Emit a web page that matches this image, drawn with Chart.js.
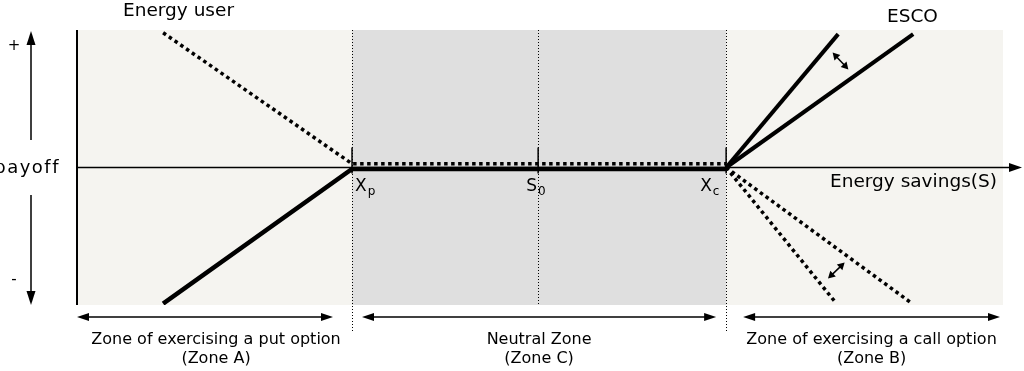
<!DOCTYPE html>
<html>
<head>
<meta charset="utf-8">
<script src="https://cdn.jsdelivr.net/npm/chart.js@4"></script>
<style>
  html, body { margin: 0; padding: 0; background: #fff; }
  #wrap { width: 1024px; height: 371px; }
</style>
</head>
<body>
<div id="wrap"><canvas id="payoff" width="1024" height="371"></canvas></div>
<script>
// Strike / reference points on the energy-savings axis
const strikePut = 29.7;  // Xp
const spotS0 = 49.8;     // S0
const strikeCall = 70.1; // Xc

// ESCO payoff (solid)
const escoX = [9.3, 29.7, 70.1];
const escoY = [-0.99, -0.01, -0.01];
const escoSteepX = [70.1, 82.2];
const escoSteepY = [0, 0.97];
const escoFlatX = [70.1, 90.3];
const escoFlatY = [0, 0.97];

// Energy user payoff (dotted)
const userX = [9.3, 29.7, 70.1];
const userY = [0.98, 0.027, 0.027];
const userSteepX = [70.1, 81.9];
const userSteepY = [0, -0.98];
const userFlatX = [70.1, 90.2];
const userFlatY = [0, -0.99];

// small double arrows between the slopes
const upperArrowX = [81.6, 83.3];
const upperArrowY = [0.836, 0.713];
const lowerArrowX = [81.1, 82.9];
const lowerArrowY = [-0.807, -0.691];

const zoneLabels = [
    ['Zone of exercising a put option', '(Zone A)'],
    ['Neutral Zone', '(Zone C)'],
    ['Zone of exercising a call option', '(Zone B)']
];

const FONT = '"DejaVu Sans", sans-serif';

function pts(xs, ys) {
    return xs.map((x, i) => ({ x: x, y: ys[i] }));
}

function solid(xs, ys, w) {
    return { data: pts(xs, ys), borderColor: '#000', borderWidth: w || 4, pointRadius: 0,
             showLine: true, fill: false, tension: 0, borderCapStyle: 'butt', borderJoinStyle: 'miter' };
}
function dotted(xs, ys) {
    return { data: pts(xs, ys), borderColor: '#000', borderWidth: 3.5, pointRadius: 0,
             showLine: true, fill: false, tension: 0, borderDash: [3.5, 3.5], borderCapStyle: 'butt' };
}

function arrowHead(ctx, x1, y1, x2, y2, len, half) {
    const a = Math.atan2(y2 - y1, x2 - x1);
    ctx.beginPath();
    ctx.moveTo(x2, y2);
    ctx.lineTo(x2 - len * Math.cos(a) + half * Math.sin(a), y2 - len * Math.sin(a) - half * Math.cos(a));
    ctx.lineTo(x2 - len * Math.cos(a) - half * Math.sin(a), y2 - len * Math.sin(a) + half * Math.cos(a));
    ctx.closePath();
    ctx.fill();
}

function doubleArrow(ctx, x1, y1, x2, y2, lw, len, half) {
    const a = Math.atan2(y2 - y1, x2 - x1);
    ctx.lineWidth = lw;
    ctx.beginPath();
    ctx.moveTo(x1 + len * 0.8 * Math.cos(a), y1 + len * 0.8 * Math.sin(a));
    ctx.lineTo(x2 - len * 0.8 * Math.cos(a), y2 - len * 0.8 * Math.sin(a));
    ctx.stroke();
    arrowHead(ctx, x1, y1, x2, y2, len, half);
    arrowHead(ctx, x2, y2, x1, y1, len, half);
}

function subLabel(ctx, main, sub, x, y) {
    ctx.textAlign = 'left';
    ctx.textBaseline = 'middle';
    ctx.font = '17px ' + FONT;
    ctx.fillText(main, x, y);
    const w = ctx.measureText(main).width;
    ctx.font = '12px ' + FONT;
    ctx.fillText(sub, x + w + 1, y + 5);
}

const backdrop = {
    id: 'backdrop',
    beforeDatasetsDraw(chart) {
        const { ctx, chartArea: a, scales: { x, y } } = chart;
        ctx.save();
        ctx.fillStyle = '#f5f4f0';
        ctx.fillRect(a.left, a.top, a.right - a.left, a.bottom - a.top);
        ctx.fillStyle = '#dfdfdf';
        const xp = x.getPixelForValue(strikePut), xc = x.getPixelForValue(strikeCall);
        ctx.fillRect(xp, a.top, xc - xp, a.bottom - a.top);

        // dotted verticals
        ctx.strokeStyle = '#000';
        ctx.lineWidth = 1;
        ctx.setLineDash([1, 2]);
        [[strikePut, 332], [strikeCall, 332], [spotS0, a.bottom]].forEach(([v, end]) => {
            const px = Math.round(x.getPixelForValue(v)) + 0.5;
            ctx.beginPath();
            ctx.moveTo(px, a.top);
            ctx.lineTo(px, end);
            ctx.stroke();
        });
        ctx.setLineDash([]);

        // axes
        const y0 = y.getPixelForValue(0);
        ctx.fillStyle = '#000';
        ctx.lineWidth = 2;
        ctx.beginPath();
        ctx.moveTo(a.left, a.top);
        ctx.lineTo(a.left, a.bottom);
        ctx.stroke();
        ctx.lineWidth = 1.3;
        ctx.beginPath();
        ctx.moveTo(a.left, y0);
        ctx.lineTo(1012, y0);
        ctx.stroke();
        arrowHead(ctx, 1000, y0, 1022, y0, 13, 4.5);

        // ticks
        ctx.lineWidth = 1.5;
        [strikePut, spotS0, strikeCall].forEach(v => {
            const px = x.getPixelForValue(v);
            ctx.beginPath();
            ctx.moveTo(px, y0 - 20);
            ctx.lineTo(px, y0 + 6);
            ctx.stroke();
        });
        ctx.restore();
    },
    afterDatasetsDraw(chart) {
        const { ctx, chartArea: a, scales: { x, y } } = chart;
        ctx.save();
        ctx.fillStyle = '#000';
        ctx.strokeStyle = '#000';

        // double arrows between slopes
        doubleArrow(ctx, x.getPixelForValue(upperArrowX[0]), y.getPixelForValue(upperArrowY[0]),
            x.getPixelForValue(upperArrowX[1]), y.getPixelForValue(upperArrowY[1]), 1.5, 7, 4);
        doubleArrow(ctx, x.getPixelForValue(lowerArrowX[0]), y.getPixelForValue(lowerArrowY[0]),
            x.getPixelForValue(lowerArrowX[1]), y.getPixelForValue(lowerArrowY[1]), 1.5, 7, 4);

        // payoff axis arrows on the left
        ctx.lineWidth = 1.5;
        ctx.beginPath();
        ctx.moveTo(31, 44); ctx.lineTo(31, 140);
        ctx.moveTo(31, 195); ctx.lineTo(31, 292);
        ctx.stroke();
        arrowHead(ctx, 31, 60, 31, 31, 14, 4.5);
        arrowHead(ctx, 31, 280, 31, 305, 14, 4.5);

        ctx.font = '15px ' + FONT;
        ctx.textBaseline = 'middle';
        ctx.textAlign = 'center';
        ctx.fillText('+', 14, 46);
        ctx.fillText('-', 14, 280);
        ctx.font = '18px ' + FONT;
        ctx.letterSpacing = '1.5px';
        ctx.textAlign = 'right';
        ctx.fillText('payoff', 60, 168);
        ctx.letterSpacing = '0px';

        ctx.textAlign = 'left';
        ctx.font = '18.5px ' + FONT;
        ctx.fillText('Energy user', 123, 11);
        ctx.fillText('ESCO', 887, 17);
        ctx.fillText('Energy savings(S)', 830, 182);

        subLabel(ctx, 'X', 'p', x.getPixelForValue(strikePut) + 3, 187);
        subLabel(ctx, 'S', '0', x.getPixelForValue(spotS0) - 12, 187);
        subLabel(ctx, 'X', 'c', x.getPixelForValue(strikeCall) - 26, 187);

        // zone span arrows and captions
        const xp = x.getPixelForValue(strikePut), xc = x.getPixelForValue(strikeCall);
        const spans = [[a.left, xp - 19], [xp + 10, xc - 10], [xc + 17, a.right - 3]];
        spans.forEach(([l, r], i) => {
            const yy = 317;
            ctx.lineWidth = 1.5;
            ctx.beginPath();
            ctx.moveTo(l + 8, yy); ctx.lineTo(r - 8, yy);
            ctx.stroke();
            arrowHead(ctx, r - 10, yy, r, yy, 12, 4);
            arrowHead(ctx, l + 10, yy, l, yy, 12, 4);
            const cx = (l + r) / 2 + (i === 0 ? 11 : 0);
            ctx.font = '16px ' + FONT;
            ctx.textAlign = 'center';
            ctx.fillText(zoneLabels[i][0], cx, 340);
            ctx.fillText(zoneLabels[i][1], cx, 359);
        });
        ctx.restore();
    }
};

new Chart(document.getElementById('payoff'), {
    type: 'scatter',
    data: {
        datasets: [
            solid(escoX, escoY, 4.5),
            solid(escoSteepX, escoSteepY, 4),
            solid(escoFlatX, escoFlatY, 4),
            dotted(userX, userY),
            dotted(userSteepX, userSteepY),
            dotted(userFlatX, userFlatY)
        ]
    },
    options: {
        responsive: false,
        animation: false,
        events: [],
        layout: { padding: { left: 77, right: 21, top: 30, bottom: 66 } },
        plugins: { legend: { display: false }, tooltip: { enabled: false } },
        scales: {
            x: { type: 'linear', min: 0, max: 100, display: false },
            y: { type: 'linear', min: -1, max: 1, display: false }
        }
    },
    plugins: [backdrop]
});
</script>
</body>
</html>
